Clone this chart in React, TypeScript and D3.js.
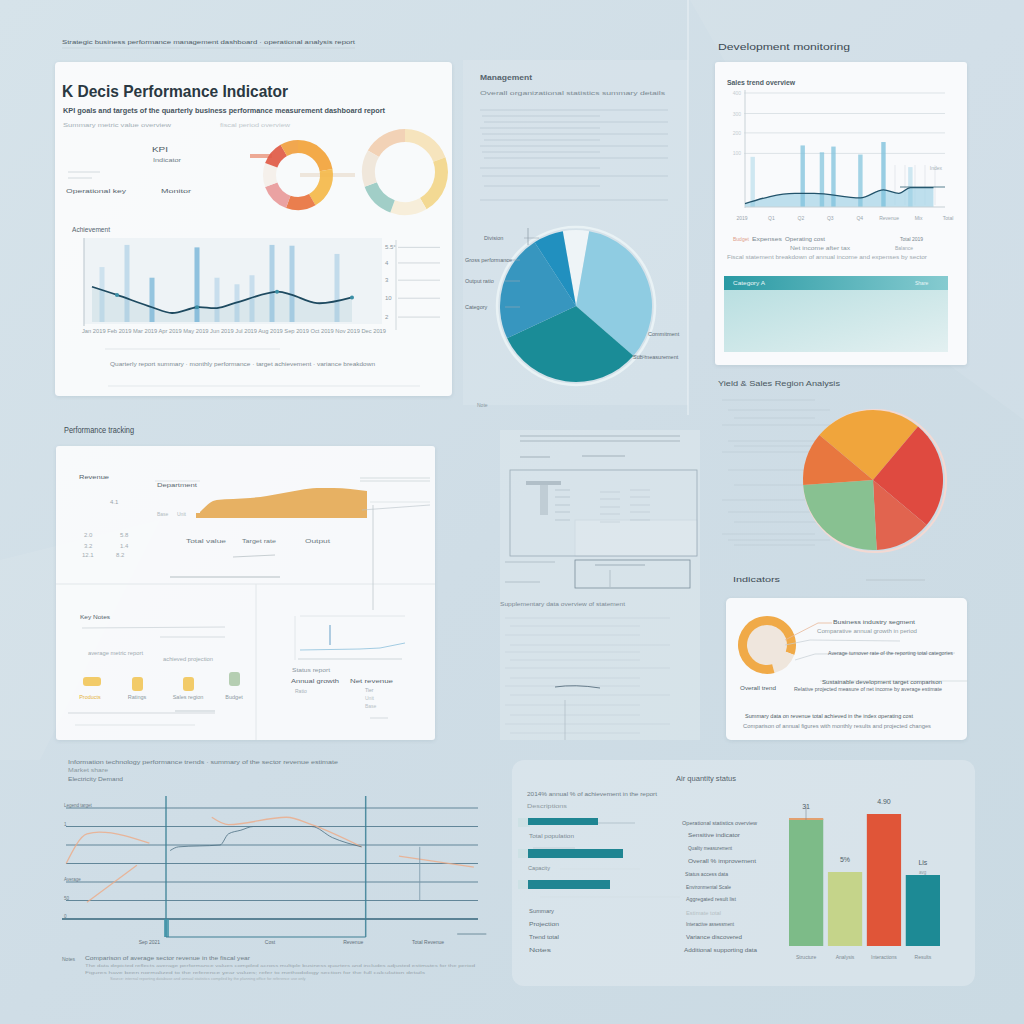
import React from 'react';
import * as d3 from 'd3';

const FONT = '"Liberation Sans", Arial, Helvetica, sans-serif';

// ---------- DATA ----------
// Card 1: achievement chart (weeks / values)
const achieveBarWeeks = [2, 7, 12, 21, 25, 29, 32, 36, 40, 49];
const achieveBarValues = [67, 94, 54, 91, 54, 46, 57, 94, 93, 83];
const achieveLineWeeks = [0, 5, 12, 16, 21, 25, 29, 37, 40, 45, 52];
const achieveLineValues = [43, 33, 18, 11, 18, 17, 24, 37, 33, 23, 30];
const achieveSideLabels = ['5.5°', '4', '3', '10', '2'];
const achieveSideValues = [91, 72, 51, 29, 6];

// Card 1 donuts
const donutAValues = [80, 70, 50, 50, 40, 40, 30];
const donutBValues = [60, 70, 80, 50, 50, 50];

// Management pie
const mgmtCategories = ['Reserve', 'Commitment', 'Sub-measurement', 'Output ratio', 'Division'];
const mgmtValues = [20, 121, 114, 82, 23];

// Top-right trend chart
const trendBarWeeks = [2, 15, 20, 23, 30, 36, 43];
const trendBarValues = [44, 54, 48, 53, 46, 57, 35];
const trendLineWeeks = [0, 13, 18, 30, 36, 40, 43, 49];
const trendLineValues = [3, 12, 12, 8, 15, 12, 17, 17];
const trendGridValues = [47, 65, 82, 100];
const trendGridLabels = ['100', '200', '300', '400'];
const trendXLabels = ['2019', 'Q1', 'Q2', 'Q3', 'Q4', 'Revenue', 'Mix', 'Total'];

// Region pie
const regionCategories = ['North', 'East', 'South', 'West', 'Central'];
const regionValues = [90, 90, 47, 89, 44];

// Performance tracking area
const perfAreaValues = [6, 18, 19, 20, 22, 25, 28, 30, 30, 29, 27];

// Indicators donut
const indicatorValues = [110, 55, 195];

// Bottom-left line chart
const gridLevels = [0, 1, 2, 3, 4, 5, 6];
const gridLabels = ['0', '50', 'Average', '', '', '1', 'Legend target'];
const orangeTrendX = [1, 6, 9, 21, NaN, 6, 18, NaN, 36, 40, 54, 60, 72, NaN, 81, 99];
const orangeTrendY = [3.0, 4.6, 4.7, 4.1, NaN, 0.9, 2.9, NaN, 5.5, 5.1, 5.5, 5.1, 3.9, NaN, 3.4, 2.8];
const darkTrendX = [26, 28, 38, 40, 43, 46, 60, 65, 72];
const darkTrendY = [3.7, 3.9, 4.0, 4.6, 4.8, 5.0, 5.0, 4.4, 3.9];
const markerX = [25, 73];
const bottomAxisLabels = ['Sep 2021', 'Cost', 'Revenue', 'Total Revenue'];
const bottomAxisX = [21, 50, 70, 88];

// Bottom-right cards
const hBarLabels = ['Primary', 'Secondary', 'Tertiary'];
const hBarValues = [70, 95, 82];
const vBarCategories = ['Structure', 'Analysis', 'Interactions', 'Results'];
const vBarValues = [127, 74, 132, 71];
const vBarTopLabels = ['31', '5%', '4.90', 'Lis'];

// ---------- STYLE ----------
const mgmtColors = ['#eef4f7', '#8fcce2', '#1a8c97', '#3796bf', '#2190bf'];
const regionColors = ['#f0a53c', '#df4a40', '#e1644f', '#88c191', '#e8773f'];
const donutAColors = ['#f2a33a', '#f4b84a', '#e8733f', '#e89a9a', '#f4efe9', '#e05a45', '#f0a040'];
const donutBColors = ['#f1c9a6', '#f6dfae', '#f3d27a', '#f7ecd2', '#8cc4bb', '#efe3d4'];
const indicatorColors = ['#f0aa48', '#efe6dc', '#f0aa48'];
const vBarColors = ['#7dbb88', '#c5d48a', '#e05538', '#1d8a95'];
const achieveBarTone = [0.25, 0.35, 0.7, 0.75, 0.3, 0.3, 0.3, 0.5, 0.5, 0.35];
const trendBarTone = [0.35, 0.75, 0.7, 0.75, 0.7, 0.8, 0.35];

const rad = (d: number) => (d * Math.PI) / 180;

function T(props: any) {
  const { x, y, w, s = 7, c = '#7e8e98', fw = 400, a = 'start', o = 1, children, ls } = props;
  return (
    <text
      x={x}
      y={y}
      fontSize={s}
      fill={c}
      fontWeight={fw}
      textAnchor={a}
      opacity={o}
      fontFamily={FONT}
      letterSpacing={ls}
      textLength={w}
      lengthAdjust={w ? 'spacingAndGlyphs' : undefined}
    >
      {children}
    </text>
  );
}

function Card1() {
  const ax = d3.scaleLinear().domain([0, 52]).range([92, 352]);
  const ay = d3.scaleLinear().domain([0, 100]).range([322, 240]);
  const pts = achieveLineWeeks.map((w, i) => [w, achieveLineValues[i]] as [number, number]);
  const line = d3.line<[number, number]>().x(d => ax(d[0])).y(d => ay(d[1])).curve(d3.curveCatmullRom);
  const area = d3.area<[number, number]>().x(d => ax(d[0])).y0(ay(0)).y1(d => ay(d[1])).curve(d3.curveCatmullRom);
  const pieA = d3.pie<number>().sort(null)(donutAValues);
  const arcA = d3.arc<any>().innerRadius(22).outerRadius(35);
  const pieB = d3.pie<number>().sort(null).startAngle(rad(-60)).endAngle(rad(300))(donutBValues);
  const arcB = d3.arc<any>().innerRadius(30).outerRadius(43);
  return (
    <g>
      <rect x={55} y={62} width={397} height={334} rx={4} fill="#fbfcfd" opacity={0.95} filter="url(#sh)" />
      <T x={62} y={97} s={17} fw={700} c="#2a3842" w={226}>K Decis Performance Indicator</T>
      <T x={63} y={113} s={7.5} fw={700} c="#46545d" w={322}>KPI  goals and targets of the quarterly business performance measurement dashboard report</T>
      <T x={63} y={127} s={6} c="#a4b0b7" w={108}>Summary metric value overview</T>
      <T x={220} y={127} s={6} c="#c0c8cd" w={70}>fiscal period overview</T>
      <T x={152} y={152} s={8} c="#4d5a63" w={16}>KPI</T>
      <T x={153} y={162} s={5.5} c="#6f7d86" w={28}>Indicator</T>
      <T x={66} y={193} s={6} c="#56646d" w={60}>Operational key</T>
      <T x={161} y={193} s={6} c="#56646d" w={30}>Monitor</T>
      <line x1={68} x2={100} y1={172} y2={172} stroke="#d3dade" />
      <line x1={68} x2={92} y1={178} y2={178} stroke="#d3dade" />
      <rect x={250} y={154} width={22} height={4} fill="#e8866a" opacity={0.7} />
      <line x1={300} x2={355} y1={175} y2={175} stroke="#e9d9c8" strokeWidth={4} opacity={0.6} />
      <g transform="translate(298,175)">
        {pieA.map((d, i) => (
          <path key={i} d={arcA(d) as string} fill={donutAColors[i]} opacity={0.92} />
        ))}
      </g>
      <g transform="translate(405,172)" opacity={0.8}>
        {pieB.map((d, i) => (
          <path key={i} d={arcB(d) as string} fill={donutBColors[i]} />
        ))}
      </g>
      <T x={72} y={232} s={6.5} c="#55636c" w={38}>Achievement</T>
      <rect x={84} y={238} width={298} height={86} fill="#eef3f6" />
      <line x1={84} x2={84} y1={238} y2={326} stroke="#b9c5cc" />
      <path d={area(pts) as string} fill="#d4e3ea" opacity={0.8} />
      {achieveBarWeeks.map((w, i) => (
        <rect key={i} x={ax(w) - 2.5} y={ay(achieveBarValues[i])} width={5} height={ay(0) - ay(achieveBarValues[i])} fill="#6fb0d6" opacity={achieveBarTone[i]} />
      ))}
      <path d={line(pts) as string} fill="none" stroke="#1e4a60" strokeWidth={1.8} />
      {achieveLineWeeks.filter((_, i) => i % 3 === 1).map((w, i) => (
        <circle key={i} cx={ax(w)} cy={ay(achieveLineValues[achieveLineWeeks.indexOf(w)])} r={2} fill="#3b8fa6" />
      ))}
      <line x1={396} x2={396} y1={240} y2={330} stroke="#d0d8dc" />
      {achieveSideLabels.map((l, i) => (
        <g key={i}>
          <T x={385} y={ay(achieveSideValues[i]) + 2} s={6} c="#8a979f">{l}</T>
          <line x1={398} x2={440} y1={ay(achieveSideValues[i])} y2={ay(achieveSideValues[i])} stroke="#b8c3c9" strokeWidth={0.6} />
        </g>
      ))}
      <T x={82} y={333} s={5} c="#8d99a1" w={304}>Jan 2019 Feb 2019 Mar 2019 Apr 2019 May 2019 Jun 2019 Jul 2019 Aug 2019 Sep 2019 Oct 2019 Nov 2019 Dec 2019</T>
      <line x1={105} x2={280} y1={349} y2={349} stroke="#e1e6e9" />
      <T x={110} y={366} s={5} c="#7f8c94" w={265}>Quarterly report summary · monthly performance · target achievement · variance breakdown</T>
      <line x1={108} x2={420} y1={386} y2={386} stroke="#e3e8eb" />
    </g>
  );
}

function Management() {
  const pie = d3.pie<number>().sort(null).startAngle(rad(-10)).endAngle(rad(350))(mgmtValues);
  const arc = d3.arc<any>().innerRadius(0).outerRadius(76);
  const cx = 576, cy = 306;
  const leftLabels = [
    { t: 'Division', y: 240, x: 484 },
    { t: 'Gross performance', y: 262, x: 465 },
    { t: 'Output ratio', y: 283, x: 465 },
    { t: 'Category', y: 309, x: 465 },
  ];
  return (
    <g>
      <rect x={463} y={60} width={225} height={345} fill="#ffffff" opacity={0.12} />
      <T x={480} y={80} s={8} fw={700} c="#56646d" w={52}>Management</T>
      <T x={480} y={95} s={6} c="#7b8991" w={185}>Overall organizational statistics summary details</T>
      {[110, 116, 122, 128, 134, 140, 146, 152, 158, 168, 176, 186, 200].map((y, i) => (
        <line key={i} x1={480 + (i % 3) * 2} x2={i % 2 ? 600 : 668} y1={y} y2={y} stroke="#9fb0ba" strokeWidth={0.7} opacity={0.55} />
      ))}
      <circle cx={cx} cy={cy} r={79} fill="none" stroke="#e9f2f5" strokeWidth={2.5} />
      <g transform={`translate(${cx},${cy})`}>
        {pie.map((d, i) => (
          <path key={i} d={arc(d) as string} fill={mgmtColors[i]} />
        ))}
      </g>
      {leftLabels.map((l, i) => (
        <g key={i}>
          <T x={l.x} y={l.y} s={5.5} c="#5e6c75">{l.t}</T>
          <line x1={l.x + 40} x2={l.x + 55} y1={l.y - 2} y2={l.y - 2} stroke="#9aaab3" strokeWidth={0.6} />
        </g>
      ))}
      <line x1={528} x2={528} y1={228} y2={245} stroke="#8a9aa3" strokeWidth={0.7} />
      <T x={648} y={336} s={5.5} c="#5e6c75">Commitment</T>
      <line x1={632} x2={646} y1={356} y2={356} stroke="#8a9aa3" strokeWidth={0.6} />
      <T x={633} y={359} s={5.5} c="#5e6c75">Sub-measurement</T>
      <T x={477} y={407} s={5} c="#8b98a0">Note</T>
    </g>
  );
}

function TopRight() {
  const rx = d3.scaleLinear().domain([0, 52]).range([745, 945]);
  const ry = d3.scaleLinear().domain([0, 100]).range([207, 93]);
  const pts = trendLineWeeks.map((w, i) => [w, trendLineValues[i]] as [number, number]);
  const line = d3.line<[number, number]>().x(d => rx(d[0])).y(d => ry(d[1])).curve(d3.curveMonotoneX);
  const area = d3.area<[number, number]>().x(d => rx(d[0])).y0(ry(0)).y1(d => ry(d[1])).curve(d3.curveMonotoneX);
  const labelX = d3.scalePoint<string>().domain(trendXLabels).range([742, 948]);
  return (
    <g>
      <T x={718} y={50} s={9} c="#3c4a53" w={132}>Development monitoring</T>
      <rect x={715} y={62} width={252} height={303} rx={3} fill="#fbfcfd" opacity={0.96} filter="url(#sh)" />
      <T x={727} y={85} s={6.5} fw={700} c="#4f5d66" w={68}>Sales trend overview</T>
      {trendGridValues.map((v, i) => (
        <g key={i}>
          <line x1={744} x2={945} y1={ry(v)} y2={ry(v)} stroke="#dde3e7" />
          <T x={741} y={ry(v) + 2} s={5} c="#c4ccd1" a="end">{trendGridLabels[i]}</T>
        </g>
      ))}
      <line x1={745} x2={745} y1={90} y2={208} stroke="#c9d2d7" />
      {[895, 905, 915, 925, 935].map((x, i) => (
        <line key={i} x1={x} x2={x} y1={165} y2={205} stroke="#d7dee2" strokeWidth={0.6} />
      ))}
      <path d={area(pts) as string} fill="#a9d6e8" opacity={0.75} />
      {trendBarWeeks.map((w, i) => (
        <rect key={i} x={rx(w) - 2.2} y={ry(trendBarValues[i])} width={4.4} height={ry(0) - ry(trendBarValues[i])} fill="#7fc2dc" opacity={trendBarTone[i]} />
      ))}
      <path d={line(pts) as string} fill="none" stroke="#22536b" strokeWidth={1.3} />
      <line x1={900} x2={945} y1={187} y2={187} stroke="#2f5f74" strokeWidth={0.8} />
      <T x={942} y={170} s={5} c="#a6b1b7" a="end">Index</T>
      <line x1={745} x2={945} y1={207} y2={207} stroke="#c7d0d5" />
      {trendXLabels.map((l, i) => (
        <T key={i} x={labelX(l)} y={220} s={5} c="#9aa6ad" a="middle">{l}</T>
      ))}
      <T x={733} y={241} s={5} c="#e0a08a">Budget</T>
      <T x={752} y={241} s={5} c="#7a8890" w={30}>Expenses</T>
      <T x={785} y={241} s={5} c="#7a8890" w={40}>Operating cost</T>
      <T x={900} y={241} s={5} c="#7a8890">Total 2019</T>
      <T x={790} y={250} s={5} c="#8d99a0" w={60}>Net income after tax</T>
      <T x={895} y={250} s={5} c="#a0abb1">Balance</T>
      <T x={727} y={259} s={5} c="#9ca8ae" w={200}>Fiscal statement breakdown of annual income and expenses by sector</T>
      <rect x={724} y={276} width={224} height={14} fill="url(#tealBand)" />
      <T x={733} y={285} s={5} c="#e9f6f7" w={32}>Category A</T>
      <T x={915} y={285} s={5} c="#e9f6f7">Share</T>
      <rect x={724} y={290} width={224} height={62} fill="url(#tealBlock)" />
    </g>
  );
}

function PerformanceTracking() {
  const px = d3.scaleLinear().domain([0, perfAreaValues.length - 1]).range([200, 367]);
  const py = d3.scaleLinear().domain([0, 30]).range([518, 488]);
  const area = d3.area<number>().x((_, i) => px(i)).y0(py(0)).y1(d => py(d)).curve(d3.curveMonotoneX);
  return (
    <g>
      <T x={64} y={433} s={9} c="#3f4d56" w={70}>Performance tracking</T>
      <rect x={56} y={446} width={379} height={294} rx={3} fill="#fbfcfd" opacity={0.93} filter="url(#sh)" />
      <line x1={56} x2={435} y1={584} y2={584} stroke="#e2e7ea" />
      <line x1={256} x2={256} y1={584} y2={740} stroke="#e2e7ea" />
      <T x={79} y={479} s={6} c="#55636c" w={30}>Revenue</T>
      <T x={110} y={504} s={6} c="#9aa5ac">4.1</T>
      <T x={84} y={537} s={6} c="#a3adb3">2.0</T>
      <T x={120} y={537} s={6} c="#a3adb3">5.8</T>
      <T x={84} y={548} s={6} c="#a3adb3">3.2</T>
      <T x={120} y={548} s={6} c="#a3adb3">1.4</T>
      <T x={82} y={557} s={6} c="#a3adb3">12.1</T>
      <T x={116} y={557} s={6} c="#a3adb3">8.2</T>
      <T x={157} y={487} s={6} c="#5b6870" w={40}>Department</T>
      <line x1={155} x2={200} y1={481} y2={481} stroke="#c8d0d5" strokeWidth={0.5} />
      <T x={157} y={516} s={5} c="#b2bbc0">Base</T>
      <T x={177} y={516} s={5} c="#b2bbc0">Unit</T>
      <path d={area(perfAreaValues) as string} fill="#e7b163" />
      <rect x={196} y={513} width={10} height={5} fill="#e7b163" />
      <T x={186} y={543} s={5.5} c="#6c7a82" w={40}>Total value</T>
      <T x={242} y={543} s={5.5} c="#6c7a82" w={34}>Target rate</T>
      <T x={305} y={543} s={5.5} c="#6c7a82" w={25}>Output</T>
      <line x1={233} x2={275} y1={557} y2={555} stroke="#a6b1b7" strokeWidth={0.6} />
      <line x1={170} x2={280} y1={577} y2={577} stroke="#9aa6ad" strokeWidth={0.7} />
      <line x1={360} x2={430} y1={478} y2={478} stroke="#c0c9ce" strokeWidth={0.6} />
      <line x1={360} x2={430} y1={481} y2={481} stroke="#c0c9ce" strokeWidth={0.6} />
      <line x1={370} x2={430} y1={502} y2={502} stroke="#d3dade" strokeWidth={0.6} />
      <line x1={373} x2={373} y1={505} y2={610} stroke="#c0c9ce" strokeWidth={0.8} />
      <line x1={362} x2={430} y1={510} y2={505} stroke="#b7c1c7" strokeWidth={0.6} />
      <T x={80} y={619} s={6} c="#55636c" w={30}>Key Notes</T>
      <line x1={82} x2={225} y1={628} y2={627} stroke="#d7dde1" />
      <line x1={160} x2={225} y1={637} y2={637} stroke="#d7dde1" />
      <T x={88} y={655} s={5} c="#a0abb1" w={55}>average metric report</T>
      <T x={163} y={661} s={5} c="#a0abb1" w={50}>achieved projection</T>
      {[{ x: 80, t: 'Products' }, { x: 127, t: 'Ratings' }, { x: 178, t: 'Sales region' }, { x: 224, t: 'Budget' }].map((d, i) => (
        <g key={i}>
          <rect x={d.x + 5 + (i === 0 ? -2 : 0)} y={i === 3 ? 672 : 677} width={i === 0 ? 18 : 11} height={i === 0 ? 9 : 14} rx={3} fill={i === 3 ? '#a9c7a5' : '#f1c34f'} opacity={0.85} />
          <T x={d.x + 10} y={699} s={5.5} c={i === 0 ? '#e6b43c' : '#8d9aa2'} a="middle">{d.t}</T>
        </g>
      ))}
      <line x1={68} x2={215} y1={713} y2={713} stroke="#c4ccd1" strokeWidth={0.7} />
      <line x1={175} x2={215} y1={711} y2={711} stroke="#b0bbc1" strokeWidth={0.7} />
      <line x1={75} x2={195} y1={725} y2={725} stroke="#d6dce0" strokeWidth={0.7} />
      <line x1={300} x2={405} y1={616} y2={616} stroke="#e2e7ea" />
      <line x1={295} x2={295} y1={616} y2={660} stroke="#e2e7ea" />
      <line x1={330} x2={330} y1={625} y2={645} stroke="#7eaed0" strokeWidth={1.2} />
      <path d="M300,650 L360,649 L380,648 L395,645 L405,643" fill="none" stroke="#8dc0dc" strokeWidth={0.8} />
      <line x1={298} x2={402} y1={659} y2={659} stroke="#cfd7db" />
      <T x={292} y={672} s={5} c="#8a979f" w={38}>Status report</T>
      <T x={291} y={683} s={5.5} c="#55636c" w={48}>Annual growth</T>
      <T x={350} y={683} s={5.5} c="#55636c" w={43}>Net revenue</T>
      <T x={295} y={693} s={5} c="#a7b1b7">Ratio</T>
      <T x={365} y={692} s={5} c="#a7b1b7">Tier</T>
      <T x={365} y={700} s={5} c="#b8c1c6">Unit</T>
      <T x={365} y={708} s={5} c="#b8c1c6">Base</T>
      <line x1={370} x2={388} y1={718} y2={718} stroke="#d5dbdf" />
    </g>
  );
}

function MiddleDoc() {
  return (
    <g>
      <rect x={500} y={430} width={200} height={310} fill="#dfe9ee" opacity={0.5} />
      <line x1={520} x2={680} y1={436} y2={436} stroke="#8c9ca6" strokeWidth={0.6} />
      <line x1={520} x2={680} y1={441} y2={441} stroke="#8c9ca6" strokeWidth={0.6} />
      <line x1={520} x2={550} y1={457} y2={457} stroke="#8c9ca6" strokeWidth={0.7} />
      <line x1={582} x2={625} y1={456} y2={456} stroke="#8c9ca6" strokeWidth={0.7} />
      <rect x={510} y={470} width={187} height={86} fill="none" stroke="#9aabb6" strokeWidth={0.8} />
      <rect x={575} y={520} width={122} height={36} fill="#ffffff" opacity={0.15} stroke="#93a4ae" strokeWidth={0.8} />
      <rect x={526} y={481} width={35} height={4} fill="#8293a0" opacity={0.45} />
      <rect x={540} y={485} width={8} height={30} fill="#8a9ba7" opacity={0.3} />
      {[490, 497, 505, 512, 520].map((y, i) => (
        <g key={i}>
          <line x1={555} x2={570} y1={y} y2={y} stroke="#8c9ca6" strokeWidth={0.6} opacity={0.6} />
          <line x1={600} x2={620} y1={y + 2} y2={y + 2} stroke="#a6b4bd" strokeWidth={0.6} opacity={0.6} />
          <line x1={630} x2={650} y1={y} y2={y} stroke="#a6b4bd" strokeWidth={0.6} opacity={0.6} />
        </g>
      ))}
      <rect x={575} y={560} width={115} height={28} fill="none" stroke="#7b8e9b" strokeWidth={0.8} />
      <line x1={595} x2={645} y1={565} y2={565} stroke="#7b8e9b" strokeWidth={0.6} />
      <line x1={610} x2={610} y1={570} y2={587} stroke="#9aabb6" strokeWidth={0.6} />
      <line x1={505} x2={555} y1={562} y2={562} stroke="#9aabb6" strokeWidth={0.6} />
      <line x1={505} x2={540} y1={582} y2={582} stroke="#9aabb6" strokeWidth={0.6} />
      <T x={500} y={606} s={5.5} c="#7b8a94" w={125}>Supplementary data overview of statement</T>
      {[618, 626, 635, 645, 652, 660, 668, 678, 686, 695, 705, 715, 724, 733].map((y, i) => (
        <line key={i} x1={505 + (i % 2) * 5} x2={i % 3 === 0 ? 670 : 640} y1={y} y2={y} stroke="#a2b2bc" strokeWidth={0.5} opacity={0.5} />
      ))}
      <path d="M555,687 Q575,684 600,688" fill="none" stroke="#5a7080" strokeWidth={0.9} />
      <line x1={565} x2={565} y1={700} y2={740} stroke="#a9b7bf" strokeWidth={0.6} />
    </g>
  );
}

function RegionPie() {
  const pie = d3.pie<number>().sort(null).startAngle(rad(-50)).endAngle(rad(310))(regionValues);
  const arc = d3.arc<any>().innerRadius(0).outerRadius(70);
  return (
    <g>
      <T x={718} y={386} s={7} c="#4a5861" w={122}>Yield &amp; Sales Region Analysis</T>
      {[400, 410, 418, 425, 441, 446, 452, 470, 485, 500, 512, 522, 534, 540, 545].map((y, i) => (
        <line key={i} x1={722 + (i % 3) * 6} x2={i % 2 ? 830 : 815} y1={y} y2={y} stroke="#a5b4bd" strokeWidth={0.5} opacity={0.6} />
      ))}
      <circle cx={875} cy={481} r={71} fill="none" stroke="#f3d9d3" strokeWidth={2} />
      <g transform="translate(873,480)">
        {pie.map((d, i) => (
          <path key={i} d={arc(d) as string} fill={regionColors[i]} />
        ))}
      </g>
    </g>
  );
}

function Indicators() {
  const pie = d3.pie<number>().sort(null)(indicatorValues);
  const arc = d3.arc<any>().innerRadius(20).outerRadius(29);
  return (
    <g>
      <T x={733} y={582} s={7.5} c="#3f4d56" w={47}>Indicators</T>
      <line x1={866} x2={925} y1={580} y2={580} stroke="#b6c3ca" strokeWidth={0.8} />
      <rect x={726} y={598} width={241} height={142} rx={5} fill="#fbfcfd" opacity={0.93} filter="url(#sh)" />
      <circle cx={767} cy={645} r={21} fill="#efe6dd" />
      <g transform="translate(767,645)">
        {pie.map((d, i) => (
          <path key={i} d={arc(d) as string} fill={indicatorColors[i]} />
        ))}
      </g>
      <path d="M785,640 L818,623 L832,623" fill="none" stroke="#e8b99a" strokeWidth={0.8} />
      <path d="M785,645 L810,640 L900,641" fill="none" stroke="#c6cfd4" strokeWidth={0.7} />
      <path d="M795,660 L815,654 L955,653" fill="none" stroke="#c6cfd4" strokeWidth={0.7} />
      <T x={833} y={624} s={5.5} c="#4f5d66" w={82}>Business industry segment</T>
      <T x={817} y={633} s={5} c="#8f9ba2" w={100}>Comparative annual growth in period</T>
      <T x={828} y={655} s={5} c="#5d6b74" w={125}>Average turnover rate of the reporting total categories</T>
      <line x1={820} x2={968} y1={681} y2={681} stroke="#c8d0d5" strokeWidth={0.6} />
      <T x={822} y={684} s={5} c="#4f5d66" w={120}>Sustainable development target comparison</T>
      <T x={794} y={691} s={5} c="#5d6b74" w={148}>Relative projected measure of net income by average estimate</T>
      <T x={740} y={690} s={5.5} c="#4f5d66" w={36}>Overall trend</T>
      <T x={745} y={718} s={5.5} c="#4f5d66" w={168}>Summary data on revenue total achieved in the index operating cost</T>
      <T x={743} y={728} s={5} c="#7c8a92" w={188}>Comparison of annual figures with monthly results and projected changes</T>
    </g>
  );
}

function BottomLeft() {
  const bx = d3.scaleLinear().domain([0, 100]).range([62, 478]);
  const by = d3.scaleLinear().domain([0, 6]).range([919, 808]);
  const orangeLine = d3.line<number>().defined((_, i) => !isNaN(orangeTrendX[i])).x((_, i) => bx(orangeTrendX[i])).y(d => by(d)).curve(d3.curveMonotoneX);
  const darkLine = d3.line<number>().x((_, i) => bx(darkTrendX[i])).y(d => by(d)).curve(d3.curveMonotoneX);
  return (
    <g>
      <T x={68} y={764} s={5.5} c="#6e7d87" w={270}>Information technology performance trends · summary of the sector revenue estimate</T>
      <T x={68} y={772} s={5} c="#8a98a0" w={40}>Market share</T>
      <T x={68} y={781} s={5.5} c="#6e7d87" w={55}>Electricity Demand</T>
      {gridLevels.map((g, i) => (
        <g key={i}>
          <line x1={i === 0 ? 62 : 66} x2={478} y1={by(g)} y2={by(g)} stroke={i === 0 ? '#24586f' : '#3e6a80'} strokeWidth={i === 0 ? 1.6 : 1.1} opacity={i === 0 ? 0.9 : 0.75} />
          {gridLabels[i] ? <T x={64} y={by(g) - 1} s={4.5} c="#6b7b85">{gridLabels[i]}</T> : null}
        </g>
      ))}
      <path d={orangeLine(orangeTrendY) as string} fill="none" stroke="#eeaa86" strokeWidth={1.3} opacity={0.8} />
      <path d={darkLine(darkTrendY) as string} fill="none" stroke="#4b6f82" strokeWidth={0.8} />
      {markerX.map((m, i) => (
        <line key={i} x1={bx(m)} x2={bx(m)} y1={by(6) - 12} y2={by(0) + 18} stroke="#3b8096" strokeWidth={1.5} opacity={0.85} />
      ))}
      <rect x={bx(markerX[0]) - 2} y={by(0)} width={5} height={18} fill="#3f93a8" opacity={0.8} />
      <line x1={bx(86)} x2={bx(86)} y1={by(3.9)} y2={by(1)} stroke="#7a98a8" strokeWidth={0.8} />
      <line x1={bx(markerX[0])} x2={bx(markerX[1])} y1={by(0) + 18} y2={by(0) + 18} stroke="#3f7f93" strokeWidth={1.2} />
      <line x1={bx(95)} x2={bx(102)} y1={by(0) + 15} y2={by(0) + 15} stroke="#56798a" strokeWidth={0.8} />
      {bottomAxisLabels.map((l, i) => (
        <T key={i} x={bx(bottomAxisX[i])} y={944} s={5} c="#5f6f79" a="middle">{l}</T>
      ))}
      <T x={62} y={961} s={5} c="#6e7d87">Notes</T>
      <T x={85} y={960} s={5} c="#6e7d87" w={165}>Comparison of average sector revenue in the fiscal year</T>
      <T x={85} y={967} s={4} c="#9aa7ae" w={390}>The data depicted reflects average performance values compiled across multiple business quarters and includes adjusted estimates for the period</T>
      <T x={85} y={974} s={4} c="#9aa7ae" w={340}>Figures have been normalized to the reference year values; refer to methodology section for the full calculation details</T>
      <T x={110} y={980} s={4} c="#a7b2b8">Source: internal reporting database and annual statistics compiled by the planning office for reference use only</T>
    </g>
  );
}

function BottomRight() {
  const hx = d3.scaleLinear().domain([0, 100]).range([528, 628]);
  const hy = d3.scalePoint<string>().domain(hBarLabels).range([822, 884]);
  const vx = d3.scaleBand<string>().domain(vBarCategories).range([789, 940]).paddingInner(0.12);
  const vy = d3.scaleLinear().domain([0, 150]).range([946, 796]);
  const midLines = [
    'Operational statistics overview', 'Sensitive indicator', 'Quality measurement', 'Overall % improvement',
    'Status access data', 'Environmental Scale', 'Aggregated result list', 'Estimate total',
    'Interactive assessment', 'Variance discovered', 'Additional supporting data',
  ];
  const midY = [823, 835, 848, 861, 874, 887, 899, 913, 924, 937, 950];
  const leftLabels = ['Summary', 'Projection', 'Trend total', 'Notes'];
  return (
    <g>
      <rect x={512} y={760} width={463} height={226} rx={12} fill="#e6eef2" opacity={0.45} />
      <T x={676} y={781} s={6.5} c="#55636c" w={60}>Air quantity status</T>
      <T x={527} y={796} s={5.5} c="#6f7d86" w={130}>2014% annual % of achievement in the report</T>
      <T x={527} y={808} s={5} c="#8e9aa1" w={40}>Descriptions</T>
      {hBarLabels.map((l, i) => (
        <g key={i}>
          <rect x={518} y={(hy(l) as number) - 4} width={12} height={9} fill="#c9dfe3" opacity={0.7} />
          <rect x={hx(0)} y={(hy(l) as number) - 4} width={hx(hBarValues[i]) - hx(0)} height={i === 0 ? 7 : 9} fill="#1f8592" />
        </g>
      ))}
      <line x1={598} x2={635} y1={823} y2={823} stroke="#9fb0b9" strokeWidth={0.6} />
      <T x={529} y={838} s={5.5} c="#7c8a92" w={45}>Total population</T>
      <line x1={533} x2={575} y1={848} y2={848} stroke="#b7c3c9" strokeWidth={0.6} />
      <T x={528} y={870} s={5.5} c="#7c8a92" w={22}>Capacity</T>
      <line x1={560} x2={640} y1={869} y2={869} stroke="#d4dde2" strokeWidth={0.6} />
      <line x1={540} x2={680} y1={897} y2={897} stroke="#d4dde2" strokeWidth={0.6} />
      {leftLabels.map((l, i) => (
        <T key={i} x={529} y={[913, 926, 939, 952][i]} s={5.5} c="#62717a" w={[25, 30, 30, 22][i]}>{l}</T>
      ))}
      {midLines.map((l, i) => (
        <T key={i} x={[682, 688, 688, 688, 685, 686, 686, 686, 686, 686, 684][i]} y={midY[i] + 2} s={5.5} c={i === 7 ? '#b5bfc4' : '#5f6e77'} w={[75, 52, 44, 68, 43, 45, 50, 35, 48, 56, 73][i]}>{l}</T>
      ))}
      {vBarCategories.map((c, i) => (
        <g key={i}>
          <rect x={vx(c)} y={vy(vBarValues[i])} width={vx.bandwidth()} height={vy(0) - vy(vBarValues[i])} fill={vBarColors[i]} />
          <T x={(vx(c) as number) + vx.bandwidth() / 2} y={vy(vBarValues[i]) - 10} s={7} c="#505e67" a="middle">{vBarTopLabels[i]}</T>
          <T x={(vx(c) as number) + vx.bandwidth() / 2} y={959} s={5} c="#7c8a92" a="middle">{c}</T>
        </g>
      ))}
      <rect x={vx(vBarCategories[0])} y={vy(vBarValues[0]) - 1} width={vx.bandwidth()} height={2} fill="#e2a070" />
      <line x1={(vx(vBarCategories[0]) as number) + 17} x2={(vx(vBarCategories[0]) as number) + 17} y1={806} y2={820} stroke="#7f8c94" strokeWidth={0.6} />
      <T x={(vx(vBarCategories[3]) as number) + 17} y={874} s={4.5} c="#8b989f" a="middle">avg</T>
    </g>
  );
}

export default function App() {
  return (
    <svg width={1024} height={1024} viewBox="0 0 1024 1024" style={{ position: 'absolute', left: 0, top: 0, display: 'block' }} fontFamily={FONT}>
      <defs>
        <linearGradient id="bg" x1="0" y1="0" x2="1" y2="1">
          <stop offset="0" stopColor="#d6e3ea" />
          <stop offset="0.5" stopColor="#cfdde6" />
          <stop offset="1" stopColor="#cadae3" />
        </linearGradient>
        <linearGradient id="tealBand" x1="0" y1="0" x2="1" y2="0">
          <stop offset="0" stopColor="#2a9aa4" />
          <stop offset="1" stopColor="#86cbd0" />
        </linearGradient>
        <linearGradient id="tealBlock" x1="0" y1="0" x2="1" y2="1">
          <stop offset="0" stopColor="#b9dfe1" />
          <stop offset="0.6" stopColor="#d2e9ea" />
          <stop offset="1" stopColor="#e3f0f1" />
        </linearGradient>
        <filter id="sh" x="-5%" y="-5%" width="110%" height="115%">
          <feDropShadow dx="0" dy="1" stdDeviation="2" floodColor="#7f97a6" floodOpacity="0.25" />
        </filter>
      </defs>
      <rect x={0} y={0} width={1024} height={1024} fill="url(#bg)" />
      <polygon points="690,0 1024,0 1024,420 860,300" fill="#ffffff" opacity={0.08} />
      <polygon points="0,560 160,520 40,760 0,760" fill="#ffffff" opacity={0.08} />
      <line x1={688} x2={688} y1={0} y2={415} stroke="#e4edf2" strokeWidth={2} opacity={0.7} />
      <T x={62} y={44} s={6} c="#4e5c66" w={293}>Strategic business performance management dashboard · operational analysis report</T>
      <line x1={62} x2={355} y1={48} y2={48} stroke="#b8c6ce" strokeWidth={0.5} />
      <Card1 />
      <Management />
      <TopRight />
      <PerformanceTracking />
      <MiddleDoc />
      <RegionPie />
      <Indicators />
      <BottomLeft />
      <BottomRight />
    </svg>
  );
}
